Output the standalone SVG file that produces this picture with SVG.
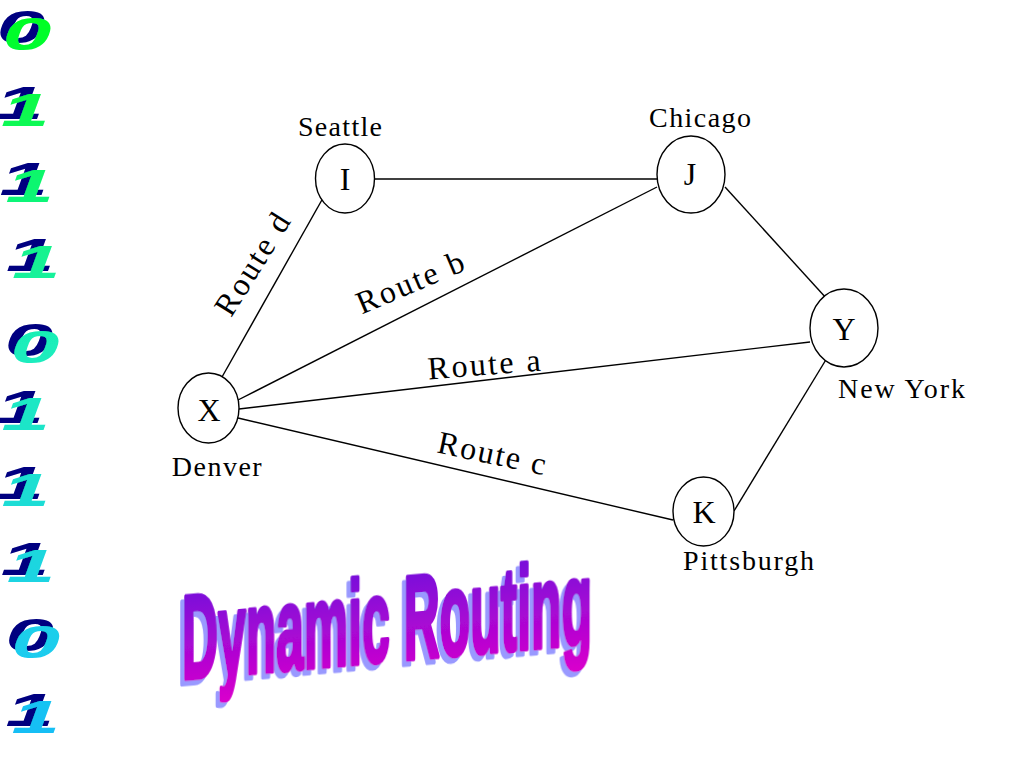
<svg xmlns="http://www.w3.org/2000/svg" width="1024" height="768" viewBox="0 0 1024 768">
<defs>
<linearGradient id="digitGrad" gradientUnits="userSpaceOnUse" x1="0" y1="0" x2="0" y2="768">
<stop offset="0" stop-color="#00ff1a"/>
<stop offset="0.45" stop-color="#1aeebb"/>
<stop offset="0.85" stop-color="#1accee"/>
<stop offset="1" stop-color="#11b8f8"/>
</linearGradient>
<linearGradient id="titleGrad" x1="0" y1="0" x2="0" y2="1">
<stop offset="0" stop-color="#6a10dc"/>
<stop offset="1" stop-color="#d800cc"/>
</linearGradient>
<filter id="digitShadow" x="-40%" y="-40%" width="180%" height="180%">
<feFlood flood-color="#000080"/>
<feComposite in2="SourceAlpha" operator="in"/>
<feOffset dx="-3.2" dy="-7" result="sh"/>
<feMerge><feMergeNode in="sh"/><feMergeNode in="SourceGraphic"/></feMerge>
</filter>
<filter id="titleShadow" x="-10%" y="-20%" width="120%" height="140%">
<feFlood flood-color="#9999ff"/>
<feComposite in2="SourceAlpha" operator="in"/>
<feOffset dx="-9.5" dy="4.7" result="sh"/>
<feMerge><feMergeNode in="sh"/><feMergeNode in="SourceGraphic"/></feMerge>
</filter>
<style>
.node ellipse { fill: #ffffff; stroke: #000000; stroke-width: 1.4; }
.node text { font-family: "Liberation Serif", serif; font-size: 32px; fill: #000000; text-anchor: middle; }
.city { font-family: "Liberation Serif", serif; font-size: 28px; fill: #000000; text-anchor: middle; }
.route { font-family: "Liberation Serif", serif; font-size: 32px; fill: #000000; text-anchor: middle; }
#connectors line { stroke: #000000; stroke-width: 1.4; }
.digit { font-family: "Liberation Sans", sans-serif; font-weight: bold; font-style: italic; font-size: 46px; fill: url(#digitGrad); filter: url(#digitShadow); }
.title { font-family: "Liberation Sans", sans-serif; font-weight: bold; font-size: 118px; }
</style>
</defs>
<rect width="1024" height="768" fill="#ffffff"/>

<g id="binary" transform="scale(1.9,1)">
<text class="digit" x="1.5" y="50">0</text>
<text class="digit" x="0.5" y="126">1</text>
<text class="digit" x="2.9" y="202">1</text>
<text class="digit" x="6.3" y="278">1</text>
<text class="digit" x="5.7" y="363">0</text>
<text class="digit" x="0.8" y="430">1</text>
<text class="digit" x="0.8" y="506">1</text>
<text class="digit" x="3.6" y="582">1</text>
<text class="digit" x="6" y="658">0</text>
<text class="digit" x="6" y="733">1</text>
</g>

<g id="connectors">
<line x1="375" y1="179" x2="657" y2="179"/>
<line x1="222" y1="377" x2="323" y2="198"/>
<line x1="238" y1="400" x2="657" y2="187"/>
<line x1="239" y1="409" x2="810" y2="342"/>
<line x1="238" y1="418" x2="673" y2="520"/>
<line x1="725" y1="187" x2="827" y2="299"/>
<line x1="827" y1="358" x2="734" y2="511"/>
</g>

<g id="route-labels">
<text class="route" transform="translate(252,264) rotate(-58)" y="11" textLength="114">Route d</text>
<text class="route" transform="translate(410,282) rotate(-23)" y="11" textLength="114">Route b</text>
<text class="route" transform="translate(484,364) rotate(-4.5)" y="11" textLength="113">Route a</text>
<text class="route" transform="translate(492,453) rotate(12)" y="11" textLength="110">Route c</text>
</g>

<g id="node-I" class="node">
<ellipse cx="345" cy="178.5" rx="29.5" ry="34.5"/>
<text x="345" y="190">I</text>
</g>
<g id="node-J" class="node">
<ellipse cx="691" cy="174.5" rx="34" ry="38.5"/>
<text x="690" y="185">J</text>
</g>
<g id="node-Y" class="node">
<ellipse cx="844" cy="328" rx="34" ry="39"/>
<text x="844" y="340">Y</text>
</g>
<g id="node-X" class="node">
<ellipse cx="208.5" cy="408" rx="30.5" ry="35"/>
<text x="209" y="421">X</text>
</g>
<g id="node-K" class="node">
<ellipse cx="703.5" cy="511.5" rx="30.5" ry="34.5"/>
<text x="704" y="523">K</text>
</g>

<g id="city-labels">
<text class="city" x="340" y="136" textLength="84">Seattle</text>
<text class="city" x="700" y="127" textLength="102">Chicago</text>
<text class="city" x="901.5" y="398" textLength="127">New York</text>
<text class="city" x="216.7" y="476" textLength="90">Denver</text>
<text class="city" x="748.5" y="570" textLength="131">Pittsburgh</text>
</g>

<g id="title">
<text class="title" transform="translate(182,679) skewY(-5) scale(0.4225,1)" fill="url(#titleGrad)" stroke="url(#titleGrad)" stroke-width="4" stroke-linejoin="round" vector-effect="non-scaling-stroke" filter="url(#titleShadow)">Dynamic Routing</text>
</g>
</svg>
